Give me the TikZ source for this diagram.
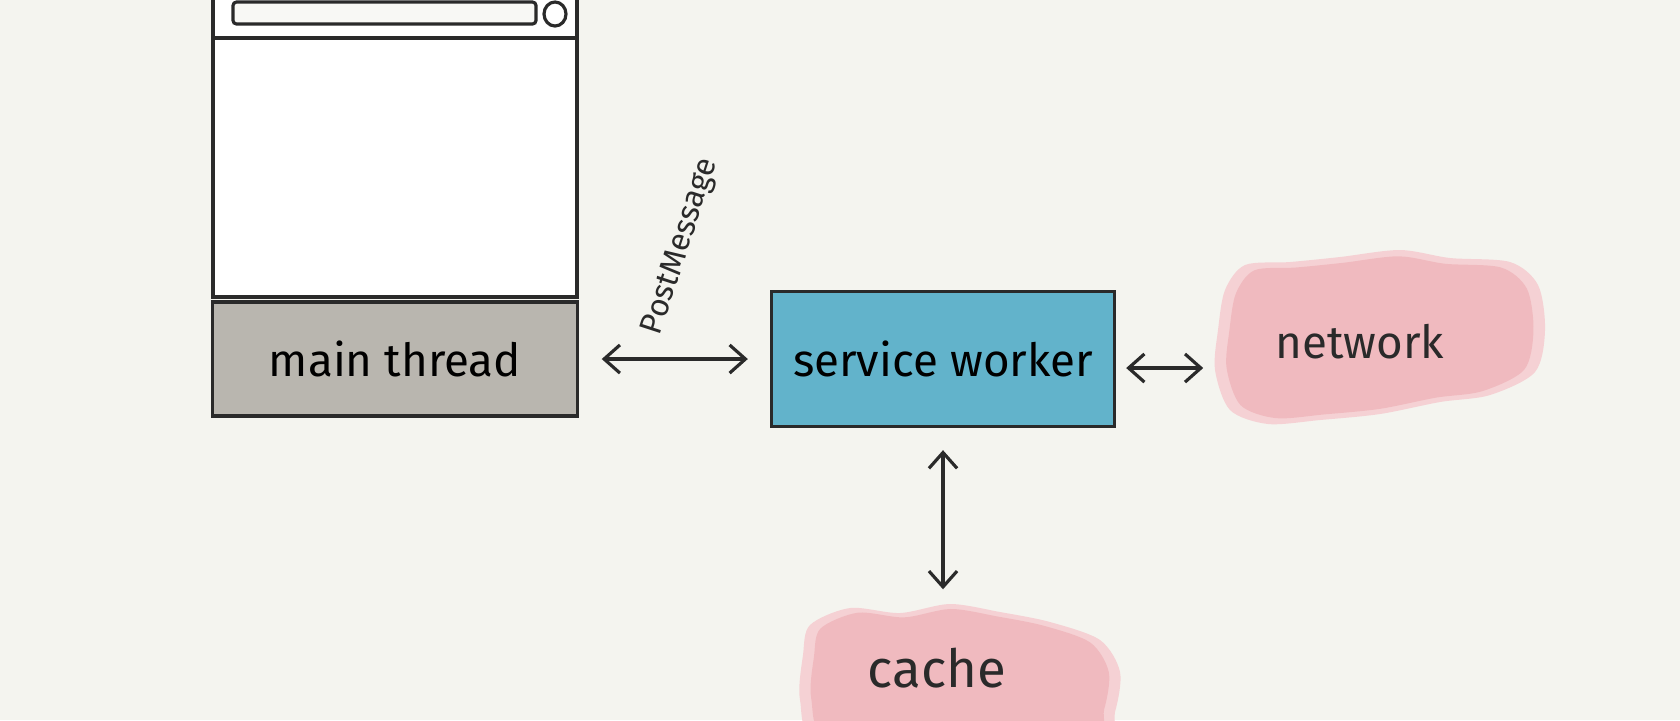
\documentclass[tikz,border=0pt]{standalone}
\usepackage{fontspec}
\setmainfont{Fira Sans}
\usetikzlibrary{arrows.meta}
\definecolor{fond}{HTML}{F4F4EF}
\definecolor{gris}{HTML}{B9B6AF}
\definecolor{bleu}{HTML}{62B3CB}
\definecolor{rose}{HTML}{EFB3B8}
\definecolor{trait}{HTML}{2A2A2A}
\tikzset{
  boite/.style={draw=trait, line width=0.9pt, inner sep=0pt, font=\fontsize{13}{15}\selectfont},
  fleche/.style={draw=trait, line width=0.9pt, {Straight Barb[length=4.5pt,width=8pt]}-{Straight Barb[length=4.5pt,width=8pt]}},
  tache/.style={inner sep=0pt, font=\fontsize{13}{15}\selectfont, text=trait},
  lavis/.style={fill=rose!60},
  lavisfort/.style={fill=rose, fill opacity=0.75}
}
\begin{document}
\begin{tikzpicture}[x=0.01cm, y=-0.01cm]
\useasboundingbox (0,0) rectangle (1680,720);
\fill[fond] (0,0) rectangle (1680,720);
\clip (0,0) rectangle (1680,720);
% Navigateur
\draw[boite, fill=white] (213,-10) rectangle (577,297);
\draw[boite] (213,38) -- (577,38);
\draw[boite, fill=fond!60!white, rounded corners=1pt] (233,2) rectangle (536,24);
\draw[boite] (555,14) ellipse [x radius=0.11cm, y radius=0.12cm];
% Taches
\def\net{(1225,290) (1245,265) (1290,262) (1340,257) (1400,250) (1450,258) (1510,262) (1538,285) (1545,330) (1535,372) (1490,395) (1440,402) (1380,414) (1320,420) (1268,424) (1230,410) (1215,370) (1218,330)}
\fill[lavis] plot[smooth cycle] coordinates {\net};
\fill[lavisfort, shift={(1380,340)}, scale=0.93, shift={(-1380,-340)}] plot[smooth cycle] coordinates {\net};
\def\cache{(810,625) (850,608) (900,613) (950,604) (1000,612) (1050,622) (1100,640) (1120,672) (1115,712) (1100,745) (950,750) (820,745) (800,700) (803,655)}
\fill[lavis] plot[smooth cycle] coordinates {\cache};
\fill[lavisfort, shift={(960,675)}, scale=0.93, shift={(-960,-675)}] plot[smooth cycle] coordinates {\cache};
% Boites
\node[boite, fill=gris, minimum width=3.64cm, minimum height=1.14cm] (main) at (395,359) {main thread};
\node[boite, fill=bleu, minimum width=3.43cm, minimum height=1.35cm] (sw) at (943,359) {service worker};
\node[tache, minimum width=3.12cm, minimum height=1.6cm] (net) at (1360,342) {network};
\node[tache, minimum height=1.3cm, font=\fontsize{15}{17}\selectfont] (cache) at (937,668) {cache};
\node[rotate=72, font=\fontsize{9}{11}\selectfont, text=trait] (post) at (681,247) {PostMessage};
% Fleches
\draw[fleche, shorten <=0.23cm, shorten >=0.22cm] (main.east) -- (sw.west);
\draw[fleche, shorten <=0.1cm] ([yshift=-0.09cm]sw.east) -- ([yshift=-0.09cm]sw.east -| net.west);
\draw[fleche, shorten <=0.22cm, shorten >=0.13cm] (sw.south) -- (sw.south |- cache.north);
\end{tikzpicture}
\end{document}
